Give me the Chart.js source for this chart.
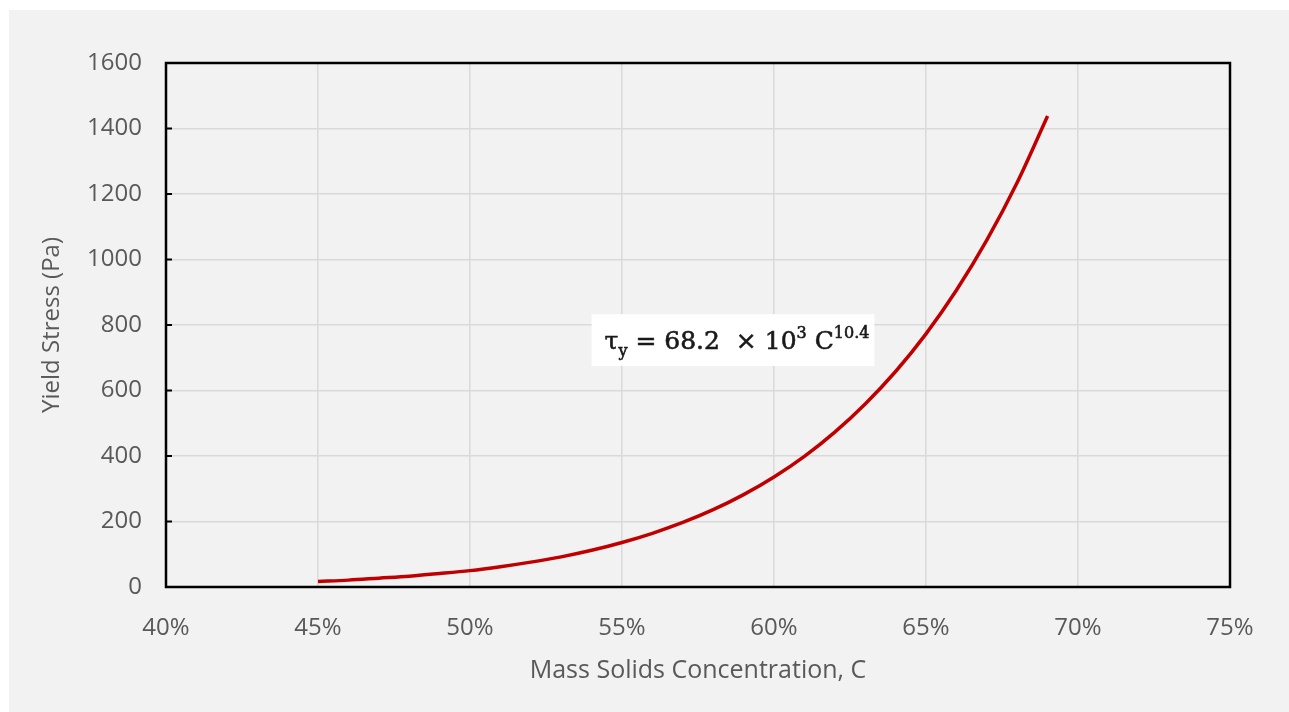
<!DOCTYPE html>
<html>
<head>
    <script src="https://cdn.jsdelivr.net/npm/chart.js@4.4.1/dist/chart.umd.min.js"></script>
    <style>
        body {
            margin: 0;
            background: #ffffff;
        }

        #wrap {
            position: absolute;
            left: 9px;
            top: 10px;
            width: 1280px;
            height: 702px;
            background: #f2f2f2;
        }
    </style>
    <title>Yield Stress vs Mass Solids Concentration</title>
</head>
<body>
    <div id="wrap"><canvas id="myChart"></canvas></div>
    <script>
        // mass solids concentration (%) and yield stress (Pa)
        var conc = [45, 46, 47, 48, 49, 50, 51, 52, 53, 54, 55, 56, 57, 58, 59, 60, 61, 62, 63, 64, 65, 66, 67, 68, 69];
        var stress = [17, 21, 27, 33, 41, 50, 62, 76, 92, 112, 136, 164, 197, 236, 282, 336, 399, 473, 559, 658, 773, 906, 1059, 1235, 1438];
        var xTicks = [40, 45, 50, 55, 60, 65, 70, 75];
        var yTicks = [0, 200, 400, 600, 800, 1000, 1200, 1400, 1600];

        var points = conc.map(function (c, i) { return { x: c, y: stress[i] }; });

        var textGrey = '#595959';

        // black frame round the plot area, short inside ticks, and the equation box
        var framePlugin = {
            id: 'frame',
            afterDatasetsDraw: function (chart) {
                var ctx = chart.ctx;
                var a = chart.chartArea;
                var xs = chart.scales.x, ys = chart.scales.y;
                ctx.save();
                ctx.strokeStyle = '#000000';
                ctx.lineWidth = 2.5;
                ctx.strokeRect(a.left, a.top, a.right - a.left, a.bottom - a.top);
                ctx.lineWidth = 2;
                yTicks.forEach(function (v) {
                    var py = ys.getPixelForValue(v);
                    ctx.beginPath();
                    ctx.moveTo(a.left, py);
                    ctx.lineTo(a.left + 6, py);
                    ctx.stroke();
                });

                // equation label
                var bx = xs.getPixelForValue(54.0);
                var by = ys.getPixelForValue(833);
                var bx2 = xs.getPixelForValue(63.3);
                var by2 = ys.getPixelForValue(675);
                ctx.fillStyle = '#ffffff';
                ctx.fillRect(bx, by, bx2 - bx, by2 - by);

                var big = '25px "DejaVu Serif"';
                var small = '16px "DejaVu Serif"';
                var base = by + (by2 - by) / 2 + 9;
                var x = bx + 13;
                ctx.fillStyle = '#1a1a1a';
                ctx.strokeStyle = '#1a1a1a';
                ctx.lineWidth = 0.6;
                ctx.textBaseline = 'alphabetic';
                var parts = [
                    ['\u03c4', big, 0],
                    ['y', small, 7],
                    [' = 68.2  \u00d7 10', big, 0],
                    ['3', small, -11],
                    [' C', big, 0],
                    ['10.4', small, -11]
                ];
                parts.forEach(function (p) {
                    ctx.font = p[1];
                    ctx.fillText(p[0], x, base + p[2]);
                    ctx.strokeText(p[0], x, base + p[2]);
                    x += ctx.measureText(p[0]).width;
                });
                ctx.restore();
            }
        };

        var ctx = document.getElementById('myChart').getContext('2d');
        var myChart = new Chart(ctx, {
            type: 'line',
            data: {
                datasets: [{
                    label: 'Yield stress',
                    data: points,
                    borderColor: '#c00000',
                    borderWidth: 3.5,
                    pointRadius: 0,
                    fill: false,
                    cubicInterpolationMode: 'monotone'
                }]
            },
            options: {
                responsive: true,
                maintainAspectRatio: false,
                animation: false,
                layout: {
                    padding: { top: 53, right: 59, left: 0, bottom: 0 }
                },
                plugins: {
                    legend: { display: false },
                    tooltip: { enabled: false }
                },
                scales: {
                    x: {
                        type: 'linear',
                        min: 40,
                        max: 75,
                        afterFit: function (scale) { scale.height = 125; },
                        afterBuildTicks: function (scale) {
                            scale.ticks = xTicks.map(function (v) { return { value: v }; });
                        },
                        ticks: {
                            padding: 27,
                            color: textGrey,
                            font: { family: 'Open Sans', size: 24 },
                            maxRotation: 0,
                            callback: function (v) { return v + '%'; }
                        },
                        grid: { color: '#d9d9d9', lineWidth: 1.5, drawTicks: false },
                        border: { display: false },
                        title: {
                            display: true,
                            text: 'Mass Solids Concentration, C',
                            color: textGrey,
                            font: { family: 'Open Sans', size: 25 },
                            padding: { top: 0, bottom: 26 }
                        }
                    },
                    y: {
                        min: 0,
                        max: 1600,
                        afterFit: function (scale) { scale.width = 157; },
                        afterBuildTicks: function (scale) {
                            scale.ticks = yTicks.map(function (v) { return { value: v }; });
                        },
                        ticks: {
                            padding: 24,
                            color: textGrey,
                            font: { family: 'Open Sans', size: 24 },
                            callback: function (v) { return String(v); }
                        },
                        grid: { color: '#d9d9d9', lineWidth: 1.5, drawTicks: false },
                        border: { display: false },
                        title: {
                            display: true,
                            text: 'Yield Stress (Pa)',
                            color: textGrey,
                            font: { family: 'Open Sans', size: 24 },
                            padding: { top: 29, bottom: 0 }
                        }
                    }
                }
            },
            plugins: [framePlugin]
        });
    </script>
</body>
</html>
